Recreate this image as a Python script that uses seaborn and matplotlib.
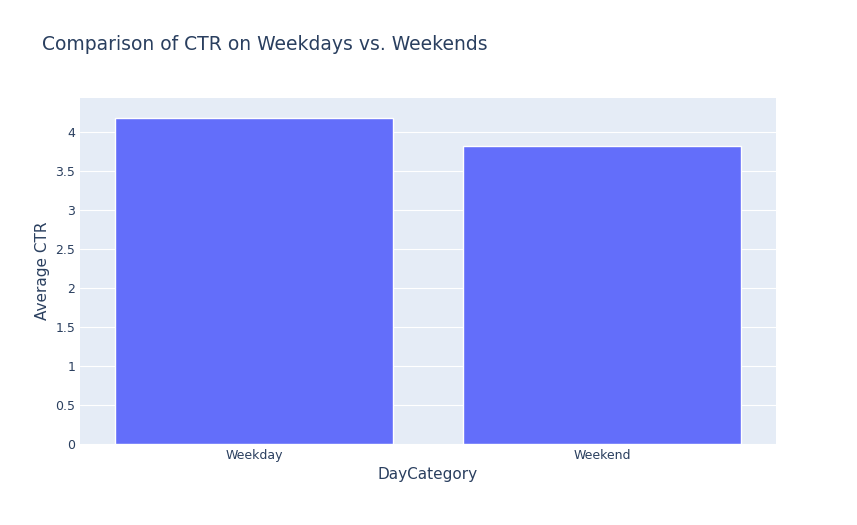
import matplotlib
matplotlib.use("Agg")
import matplotlib.pyplot as plt
import seaborn as sns
import pandas as pd

categories = ["Weekday", "Weekend"]
ctr_values = [4.18, 3.82]

df = pd.DataFrame({"DayCategory": categories, "Average CTR": ctr_values})

sns.set_style("darkgrid", {"axes.facecolor": "#E5ECF6", "grid.color": "white"})
plt.rcParams['font.family'] = ['DejaVu Sans']
fig = plt.figure(figsize=(8.57, 5.25), dpi=100)
ax = fig.add_axes([80/857, 1-444/525, 696/857, 346/525])
sns.barplot(data=df, x="DayCategory", y="Average CTR", color="#636EFA", saturation=1, width=0.8, ax=ax)
ax.set_ylim(0, 4.43)
ax.set_yticks([0, 0.5, 1, 1.5, 2, 2.5, 3, 3.5, 4])
ax.set_yticklabels(["0", "0.5", "1", "1.5", "2", "2.5", "3", "3.5", "4"])
ax.tick_params(colors="#2A3F5F", labelsize=9, length=0)
ax.set_xlabel("DayCategory", color="#2A3F5F", fontsize=11)
ax.set_ylabel("Average CTR", color="#2A3F5F", fontsize=11)
ax.grid(axis="x", visible=False)
for s in ax.spines.values():
    s.set_visible(False)
fig.text(42/857, 1-45/525, "Comparison of CTR on Weekdays vs. Weekends", fontsize=13.5, color="#2A3F5F", va="center")
fig.savefig("out.png", dpi=100)
